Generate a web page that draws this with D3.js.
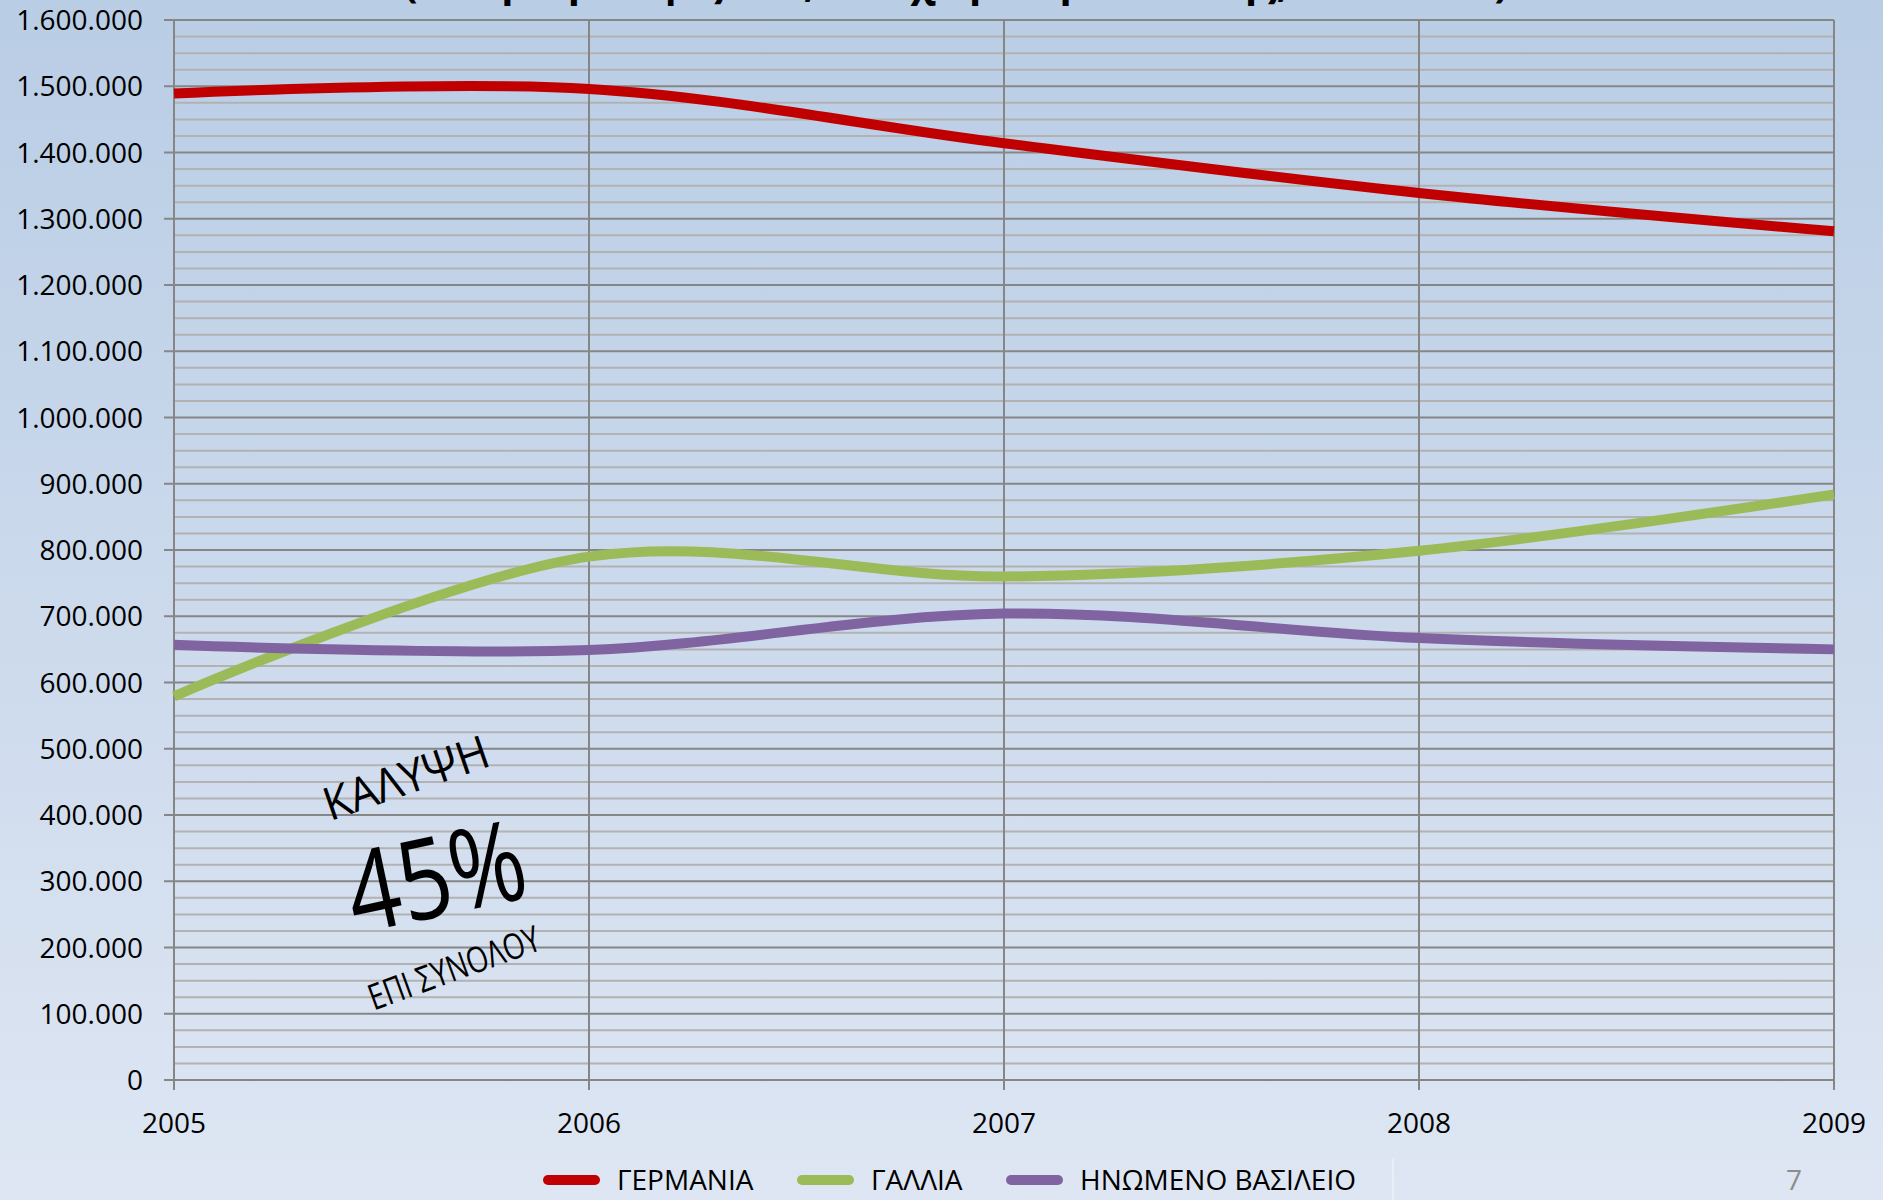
<!DOCTYPE html>
<html lang="el">

<head>
    <meta charset="utf-8">
    <script src="https://d3js.org/d3.v7.min.js"></script>
    <style>
        body { margin: 0; }
        svg { display: block; }
    </style>
</head>

<body>
    <div class="chart"></div>

    <script>
        // data
        const years = [2005, 2006, 2007, 2008, 2009];
        const germany = [1489000, 1496000, 1414000, 1339000, 1281000];
        const france = [579000, 790000, 760000, 799000, 884000];
        const uk = [657000, 649000, 704000, 667000, 650000];
        const seriesNames = ["ΓΕΡΜΑΝΙΑ", "ΓΑΛΛΙΑ", "ΗΝΩΜΕΝΟ ΒΑΣΙΛΕΙΟ"];
        const seriesColors = ["#c00000", "#9bbb59", "#8064a2"];
        const yMaxValue = 1600000;

        const width = 1883;
        const height = 1200;
        const font = "'Open Sans', sans-serif";
        const labelSize = 28;

        // plot area
        const plotLeft = 174, plotRight = 1834, plotTop = 20, plotBottom = 1080;

        const svg = d3.select(".chart").append("svg")
            .attr("width", width)
            .attr("height", height)
            .style("font-family", font);

        // background gradient
        const grad = svg.append("defs").append("linearGradient")
            .attr("id", "bg").attr("x1", 0).attr("y1", 0).attr("x2", 0).attr("y2", 1);
        grad.append("stop").attr("offset", "0%").attr("stop-color", "#b9cde5");
        grad.append("stop").attr("offset", "100%").attr("stop-color", "#dee6f3");
        svg.append("rect").attr("width", width).attr("height", height).attr("fill", "url(#bg)");

        // title (mostly above the picture, as in the slide)
        svg.append("text")
            .attr("x", 956).attr("y", -3)
            .attr("text-anchor", "middle")
            .attr("font-size", 40).attr("font-weight", "bold")
            .attr("fill", "#000")
            .text("(σε αριθμό αφίξεων, ανά χώρα προέλευσης, 2005-2009)");

        // scales
        const x = d3.scaleLinear().domain([2005, 2009]).range([plotLeft, plotRight]);
        const y = d3.scaleLinear().domain([0, yMaxValue]).range([plotBottom, plotTop]);

        const locale = d3.formatLocale({ decimal: ",", thousands: ".", grouping: [3], currency: ["", "€"] });
        const fmt = locale.format(",");

        // minor gridlines every 25.000
        svg.append("g")
            .selectAll("line")
            .data(d3.range(0, yMaxValue + 1, 25000).filter(v => v % 100000 != 0))
            .enter().append("line")
            .attr("x1", plotLeft).attr("x2", plotRight)
            .attr("y1", d => y(d)).attr("y2", d => y(d))
            .attr("stroke", "#b2b2b2").attr("stroke-width", 2);

        // major gridlines every 100.000 (with tick marks to the left)
        svg.append("g")
            .selectAll("line")
            .data(d3.range(0, yMaxValue + 1, 100000))
            .enter().append("line")
            .attr("x1", plotLeft - 10).attr("x2", plotRight)
            .attr("y1", d => y(d)).attr("y2", d => y(d))
            .attr("stroke", "#868686").attr("stroke-width", 2);

        // vertical gridlines at each year (with tick marks below)
        svg.append("g")
            .selectAll("line")
            .data(years)
            .enter().append("line")
            .attr("x1", d => x(d)).attr("x2", d => x(d))
            .attr("y1", plotTop).attr("y2", plotBottom + 10)
            .attr("stroke", "#868686").attr("stroke-width", 2);

        // y axis labels
        svg.append("g")
            .selectAll("text")
            .data(d3.range(0, yMaxValue + 1, 100000))
            .enter().append("text")
            .attr("x", 143).attr("y", d => y(d))
            .attr("dy", "0.36em")
            .attr("text-anchor", "end")
            .attr("font-size", labelSize)
            .text(d => fmt(d));

        // x axis labels
        svg.append("g")
            .selectAll("text")
            .data(years)
            .enter().append("text")
            .attr("x", d => x(d)).attr("y", 1133)
            .attr("text-anchor", "middle")
            .attr("font-size", labelSize)
            .text(d => d);

        // smoothed lines
        const allSeries = [germany, france, uk];
        const line = d3.line()
            .x((d, i) => x(years[i]))
            .y(d => y(d))
            .curve(d3.curveCardinal.tension(0));

        svg.append("g")
            .selectAll("path")
            .data(allSeries)
            .enter().append("path")
            .attr("fill", "none")
            .attr("stroke", (d, i) => seriesColors[i])
            .attr("stroke-width", 10)
            .attr("d", line);

        // annotation
        const note = svg.append("g").attr("fill", "#000");
        note.append("text")
            .attr("transform", "translate(406,778) rotate(-19)")
            .attr("text-anchor", "middle").attr("dy", "0.35em")
            .attr("font-size", 46)
            .attr("textLength", 172).attr("lengthAdjust", "spacingAndGlyphs")
            .text("ΚΑΛΥΨΗ");
        note.append("text")
            .attr("transform", "translate(436,877) rotate(-12)")
            .attr("text-anchor", "middle").attr("dy", "0.35em")
            .attr("font-size", 112)
            .attr("textLength", 180).attr("lengthAdjust", "spacingAndGlyphs")
            .text("45%");
        note.append("text")
            .attr("transform", "translate(454,968) rotate(-20)")
            .attr("text-anchor", "middle").attr("dy", "0.35em")
            .attr("font-size", 36)
            .attr("textLength", 180).attr("lengthAdjust", "spacingAndGlyphs")
            .text("ΕΠΙ ΣΥΝΟΛΟΥ");

        // legend
        const legendX = [543, 797, 1006];
        const legend = svg.append("g")
            .selectAll("g")
            .data(seriesNames)
            .enter().append("g")
            .attr("transform", (d, i) => "translate(" + legendX[i] + ",1180)");
        legend.append("line")
            .attr("x1", 5).attr("x2", 52)
            .attr("stroke", (d, i) => seriesColors[i])
            .attr("stroke-width", 10)
            .attr("stroke-linecap", "round");
        legend.append("text")
            .attr("x", 74).attr("dy", "0.36em")
            .attr("font-size", labelSize)
            .text(d => d);

        // slide decoration: faint separator and page number
        svg.append("line")
            .attr("x1", 1393).attr("x2", 1393).attr("y1", 1159).attr("y2", height)
            .attr("stroke", "#eef2f9").attr("stroke-width", 1.5);
        svg.append("text")
            .attr("x", 1794).attr("y", 1190)
            .attr("text-anchor", "middle")
            .attr("font-size", 28).attr("fill", "#8c8c8c")
            .text("7");
    </script>
</body>

</html>
